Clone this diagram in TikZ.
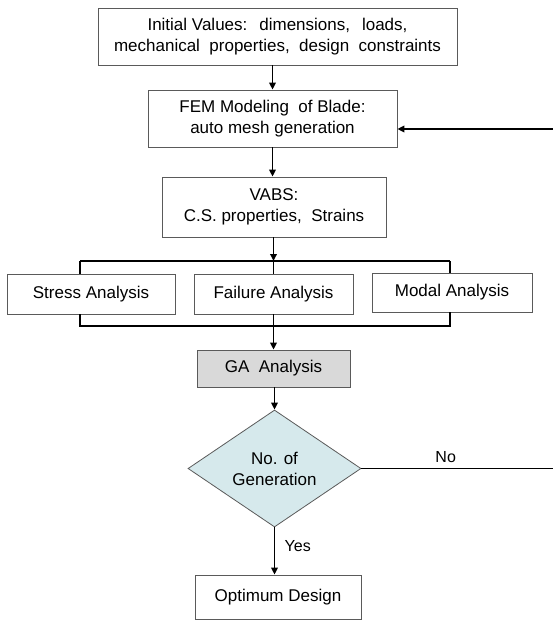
\documentclass[tikz,border=0pt]{standalone}
\usepackage{fontspec}
\setmainfont{Liberation Sans}
\usetikzlibrary{shapes.geometric, arrows.meta, positioning}
\definecolor{gaGray}{RGB}{217,217,217}
\definecolor{decisionBlue}{RGB}{214,233,236}
\definecolor{boxLine}{RGB}{90,90,90}

\begin{document}
\begin{tikzpicture}[
    x=1pt, y=-1pt,
    block/.style={rectangle, draw=boxLine, line width=0.8pt, inner sep=0pt, font=\fontsize{17}{21}\selectfont, align=center},
    decision/.style={diamond, draw=boxLine, line width=0.8pt, fill=decisionBlue, inner sep=0pt, aspect=1.48, font=\fontsize{17}{21}\selectfont, align=center},
    arrow/.style={-{Triangle[length=7pt, width=6.5pt]}, line width=1.7pt},
    line/.style={line width=1.7pt},
    note/.style={font=\fontsize{16}{18}\selectfont}
]
\useasboundingbox (0,0) rectangle (553,620);

% Main chain
\node[block, minimum width=359pt, minimum height=57pt] (init) at (277.5,36.5) {Initial Values:\hspace{12pt}dimensions,\hspace{12pt}loads,\\mechanical\ \ properties,\ \ design\ \ constraints};
\node[block, minimum width=249pt, minimum height=57pt] (fem) at (272.5,118.5) {FEM Modeling\ \ of Blade:\\auto mesh generation};
\node[block, minimum width=224pt, minimum height=60pt] (vabs) at (274,207) {VABS:\\C.S. properties,\ \ Strains};

% Analyses
\node[block, minimum width=168pt, minimum height=40pt] (stress) at (91,294) {Stress Analysis};
\node[block, minimum width=159pt, minimum height=40pt] (failure) at (273.5,294) {Failure Analysis};
\node[block, minimum width=160pt, minimum height=39pt] (modal) at (452,292.5) {Modal Analysis};

% GA loop
\node[block, fill=gaGray, minimum width=153pt, minimum height=37pt] (ga) at (273.5,368.5) {GA\ \ Analysis};
\node[decision, minimum width=173pt, minimum height=117pt] (gen) at (274.5,468.5) {No. of\\Generation};
\node[block, minimum width=166pt, minimum height=44pt] (opt) at (278,597) {Optimum Design};

% Bracket corners and loop ends
\coordinate (topL) at (80,261);
\coordinate (topR) at (450,261);
\coordinate (botL) at (80,326);
\coordinate (botR) at (450,326);
\coordinate (noEnd) at (553,468.5);
\coordinate (backStart) at (553,129);

% Arrows
\draw[arrow] (init.south -| fem.north) -- (fem.north);
\draw[arrow] (fem.south) -- (fem.south |- vabs.north);
\draw[arrow] (vabs.south -| failure.north) -- (topL -| failure.north);
\draw[line] (topL) -- (topR);
\draw[line] (topL) -- (topL |- stress.north);
\draw[line] (topR) -- (topR |- modal.north);
\draw[line] (topL -| failure.north) -- (failure.north);
\draw[line] (stress.south -| botL) -- (botL) -- (botR) -- (modal.south -| botR);
\draw[line] (failure.south) -- (botL -| failure.south);
\draw[arrow] (botL -| failure.south) -- (ga.north -| failure.south);
\draw[arrow] (ga.south -| gen.north) -- (gen.north);
\draw[arrow] (gen.south) -- node[note, right=6pt, pos=0.4] {Yes} (gen.south |- opt.north);
\draw[line] (gen.east) -- node[note, above=2pt, pos=0.44] {No} (noEnd);
\draw[arrow] (backStart) -- (backStart -| fem.east);

\end{tikzpicture}
\end{document}
